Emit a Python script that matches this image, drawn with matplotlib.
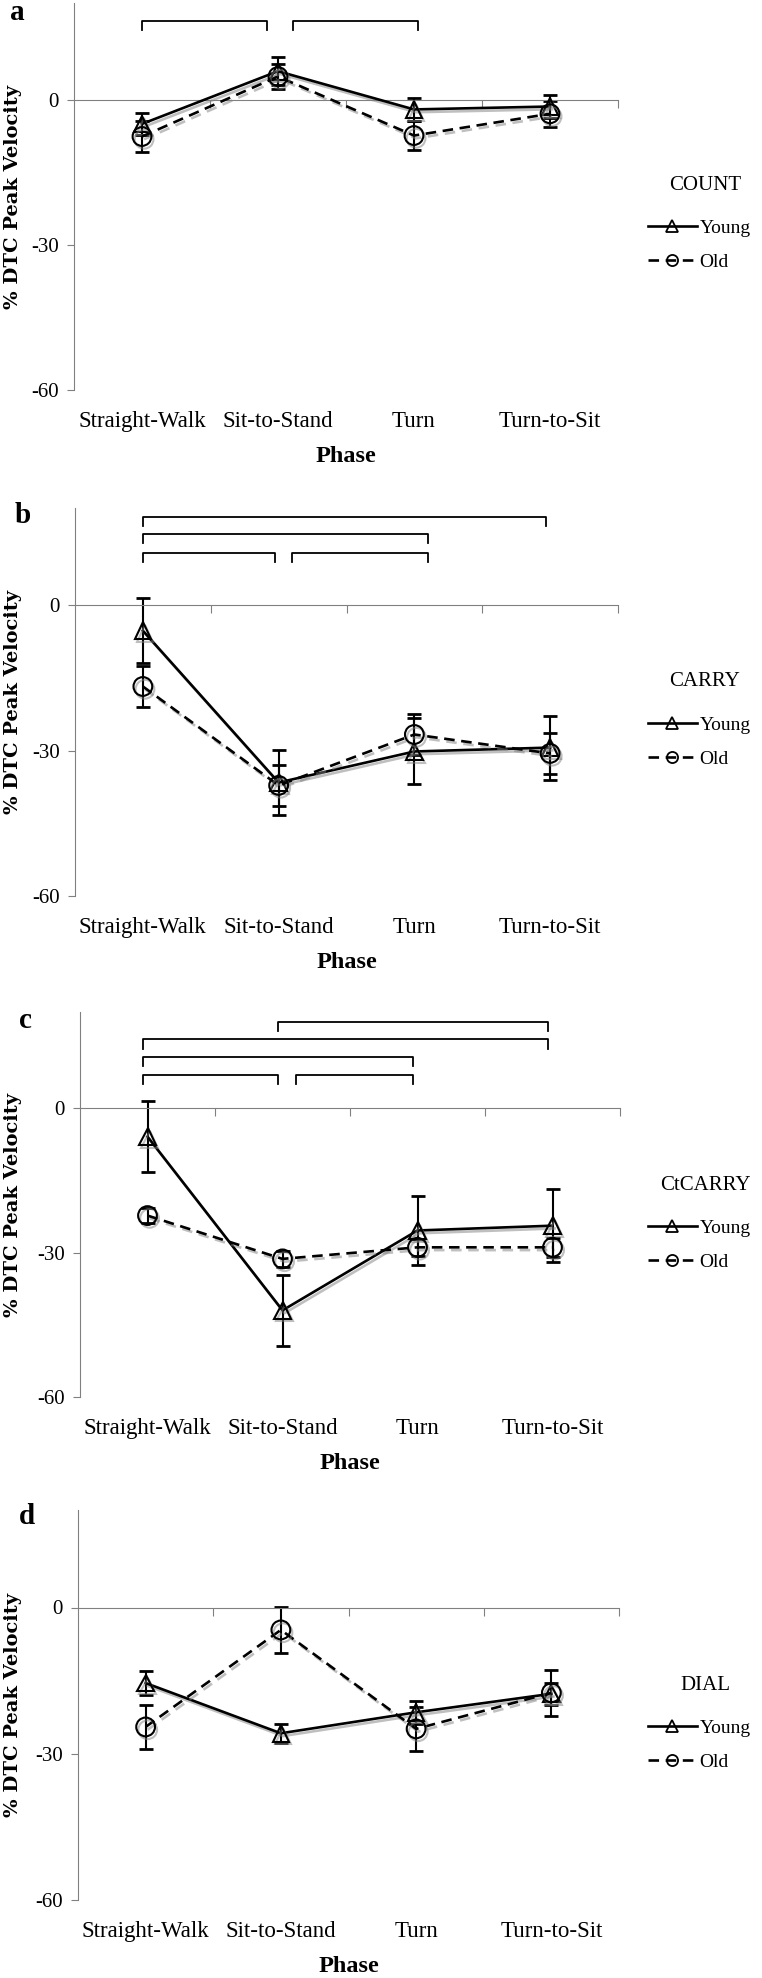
import numpy as np
import matplotlib
matplotlib.use('Agg')
import matplotlib.pyplot as plt
import matplotlib.patheffects as pe
from matplotlib.lines import Line2D

plt.rcParams['font.family'] = ['Liberation Serif', 'DejaVu Serif']

# ---- data ----
phases = ['Straight-Walk', 'Sit-to-Stand', 'Turn', 'Turn-to-Sit']
panel_letters = ['a', 'b', 'c', 'd']
tasks = ['COUNT', 'CARRY', 'CtCARRY', 'DIAL']

young_count = [-5.0, 5.9, -2.0, -1.4]
young_count_err = [2.2, 2.9, 2.3, 2.4]
old_count = [-7.6, 4.8, -7.4, -2.9]
old_count_err = [3.2, 2.5, 3.0, 2.7]

young_carry = [-5.3, -36.6, -30.2, -29.4]
young_carry_err = [6.7, 6.7, 6.8, 6.6]
old_carry = [-16.8, -37.2, -26.7, -30.6]
old_carry_err = [4.3, 4.3, 4.3, 4.3]

young_ctcarry = [-5.9, -42.0, -25.4, -24.4]
young_ctcarry_err = [7.4, 7.3, 7.2, 7.6]
old_ctcarry = [-22.3, -31.3, -28.9, -28.9]
old_ctcarry_err = [1.6, 1.6, 1.8, 2.0]

young_dial = [-15.5, -25.8, -21.5, -17.7]
young_dial_err = [2.4, 2.0, 2.4, 2.2]
old_dial = [-24.5, -4.6, -24.9, -17.5]
old_dial_err = [4.6, 4.7, 4.5, 4.7]

# significance brackets: (start phase, end phase, height)
brackets_count = [(0, 0.92, 16.3), (1.11, 2.03, 16.3)]
brackets_carry = [(0, 2.97, 18.2), (0, 2.1, 14.6), (0, 0.97, 10.8), (1.1, 2.1, 10.8)]
brackets_ctcarry = [(0.97, 2.97, 18.0), (-0.03, 2.97, 14.3), (-0.03, 1.97, 10.6),
                    (-0.03, 0.97, 7.0), (1.1, 1.97, 7.0)]
brackets_dial = []

young_all = [young_count, young_carry, young_ctcarry, young_dial]
young_err_all = [young_count_err, young_carry_err, young_ctcarry_err, young_dial_err]
old_all = [old_count, old_carry, old_ctcarry, old_dial]
old_err_all = [old_count_err, old_carry_err, old_ctcarry_err, old_dial_err]
brackets_all = [brackets_count, brackets_carry, brackets_ctcarry, brackets_dial]

# ---- layout in pixels ----
W, H = 762, 1978
axes_px = [(74, 3, 618, 390), (75, 508, 618, 896), (80, 1012, 620, 1397), (78, 1510, 619, 1900)]
legend_title_y = [185, 682, 1185, 1685]
letter_px = [(10, 12), (15, 515), (19, 1020), (19, 1517)]

fig = plt.figure(figsize=(W / 100, H / 100), dpi=100)
shadow = [pe.SimpleLineShadow(offset=(1.5, -2), shadow_color='gray', alpha=0.5), pe.Normal()]
axis_gray = '#808080'
dash = (0, (4, 2.5))
x = np.arange(len(phases))

for i in range(4):
    l, t, r, b = axes_px[i]
    ax = fig.add_axes([l / W, 1 - b / H, (r - l) / W, (b - t) / H])

    ax.errorbar(x, old_all[i], yerr=old_err_all[i], fmt='none', ecolor='black',
                elinewidth=1.5, capsize=5, capthick=2, zorder=2)
    ax.errorbar(x, young_all[i], yerr=young_err_all[i], fmt='none', ecolor='black',
                elinewidth=1.5, capsize=5, capthick=2, zorder=2)
    ax.plot(x, young_all[i], color='black', lw=1.9, marker='^', ms=12, mfc='none',
            mec='black', mew=1.5, zorder=3, path_effects=shadow)
    ax.plot(x, old_all[i], color='black', lw=1.9, ls=dash, marker='o', ms=13.5, mfc='none',
            mec='black', mew=1.5, zorder=3, path_effects=shadow)

    for s, e, lev in brackets_all[i]:
        ax.plot([s, s, e, e], [lev - 1.9, lev, lev, lev - 1.9], color='black', lw=1.3,
                clip_on=False)

    ax.set_xlim(-0.5, 3.5)
    ax.set_ylim(-60, 20)
    for side in ['top', 'right']:
        ax.spines[side].set_visible(False)
    ax.spines['bottom'].set_position(('data', 0))
    ax.spines['bottom'].set_color(axis_gray)
    ax.spines['left'].set_color(axis_gray)
    ax.set_xticks([0.5, 1.5, 2.5, 3.5])
    ax.set_xticklabels([])
    ax.set_yticks([-60, -30, 0])
    ax.set_yticklabels(['-60', '-30', '0'], fontsize=15)
    ax.tick_params(axis='x', direction='out', length=6, color=axis_gray)
    ax.tick_params(axis='y', direction='out', length=5, color=axis_gray, pad=6)

    for j, name in enumerate(phases):
        ax.annotate(name, xy=(j, 0), xycoords=('data', 'axes fraction'),
                    xytext=(0, -23), textcoords='offset points',
                    ha='center', va='center', fontsize=16.5)
    ax.annotate('Phase', xy=(0.5, 0), xycoords='axes fraction', xytext=(0, -48),
                textcoords='offset points', ha='center', va='center', fontsize=17.5,
                fontweight='bold')

    fig.text(13 / W, 1 - ((t + b) / 2) / H, '% DTC Peak Velocity', rotation=90,
             ha='center', va='center', fontsize=14, fontweight='bold', family='DejaVu Serif')
    fig.text(letter_px[i][0] / W, 1 - letter_px[i][1] / H, panel_letters[i],
             ha='left', va='center', fontsize=21, fontweight='bold')

    # legend: title as text, entries as a legend below it
    ty = legend_title_y[i]
    fig.text(705 / W, 1 - ty / H, tasks[i], ha='center', va='center', fontsize=15)
    handles = [Line2D([], [], color='black', lw=1.9, marker='^', ms=8, mfc='none', mew=1.3),
               Line2D([], [], color='black', lw=1.9, ls=dash, marker='o', ms=8, mfc='none', mew=1.3)]
    ax.legend(handles, ['Young', 'Old'], loc='center left',
              bbox_to_anchor=(648 / W, 1 - (ty + 60) / H),
              bbox_transform=fig.transFigure, frameon=False, fontsize=14,
              handlelength=2.5, handletextpad=0.15, labelspacing=0.85,
              borderaxespad=0, borderpad=0)

fig.savefig('out.png', dpi=100)
